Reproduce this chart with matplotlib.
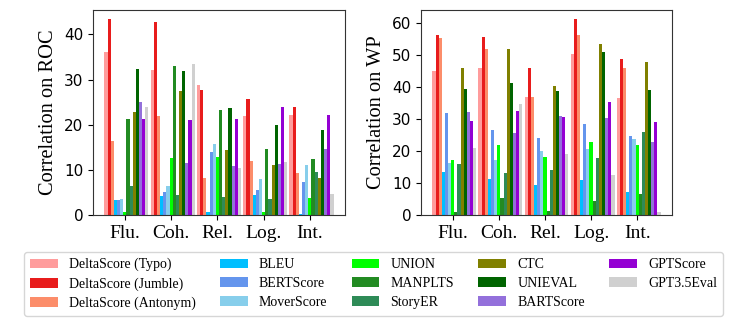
import matplotlib
matplotlib.use("Agg")
import matplotlib.pyplot as plt
import numpy as np

plt.rcParams['font.family'] = ['Liberation Serif', 'DejaVu Serif']

categories = ["Flu.", "Coh.", "Rel.", "Log.", "Int."]
methods = ["DeltaScore (Typo)", "DeltaScore (Jumble)", "DeltaScore (Antonym)",
           "BLEU", "BERTScore", "MoverScore",
           "UNION", "MANPLTS", "StoryER",
           "CTC", "UNIEVAL", "BARTScore",
           "GPTScore", "GPT3.5Eval"]
colors = ["#FF9C9C", "#E81C1C", "#FC8D6A",
          "#00BFFF", "#6495ED", "#87CEEB",
          "#00FF00", "#228B22", "#2E8B57",
          "#808000", "#006400", "#9370DB",
          "#9400D3", "#D0D0D0"]

# values per method, per category (Flu., Coh., Rel., Log., Int.)
roc = {
    "DeltaScore (Typo)":    [36.1, 32.1, 28.7, 21.9, 22.1],
    "DeltaScore (Jumble)":  [43.5, 42.7, 27.6, 25.7, 23.9],
    "DeltaScore (Antonym)": [16.4, 22.0, 8.3, 11.9, 9.3],
    "BLEU":                 [3.3, 4.3, 0.7, 4.4, 0.2],
    "BERTScore":            [3.3, 5.0, 14.0, 5.6, 7.2],
    "MoverScore":           [3.5, 6.4, 15.7, 7.9, 11.1],
    "UNION":                [0.6, 12.7, 12.8, 0.7, 3.8],
    "MANPLTS":              [21.3, 33.0, 23.3, 14.7, 12.4],
    "StoryER":              [6.4, 4.4, 3.9, 3.6, 9.6],
    "CTC":                  [22.9, 27.4, 14.3, 11.1, 8.2],
    "UNIEVAL":              [32.4, 31.9, 23.8, 20.0, 18.8],
    "BARTScore":            [25.0, 11.6, 10.9, 11.3, 14.6],
    "GPTScore":             [21.3, 21.0, 21.3, 24.0, 22.1],
    "GPT3.5Eval":           [23.9, 33.5, 10.4, 11.8, 4.7],
}
wp = {
    "DeltaScore (Typo)":    [44.8, 45.8, 36.8, 50.2, 36.6],
    "DeltaScore (Jumble)":  [56.1, 55.5, 45.8, 61.0, 48.5],
    "DeltaScore (Antonym)": [55.2, 51.8, 36.8, 56.1, 45.8],
    "BLEU":                 [13.3, 11.2, 9.4, 10.9, 7.1],
    "BERTScore":            [31.7, 26.6, 24.0, 28.4, 24.5],
    "MoverScore":           [16.3, 17.0, 20.0, 20.6, 23.6],
    "UNION":                [17.2, 21.7, 18.0, 22.8, 21.7],
    "MANPLTS":              [0.8, 5.3, 1.4, 4.4, 6.4],
    "StoryER":              [15.8, 13.0, 13.9, 17.8, 26.0],
    "CTC":                  [45.8, 51.6, 40.2, 53.2, 47.6],
    "UNIEVAL":              [39.3, 41.3, 38.6, 50.7, 39.1],
    "BARTScore":            [32.1, 25.6, 30.9, 30.2, 22.9],
    "GPTScore":             [29.2, 32.5, 30.7, 35.2, 28.9],
    "GPT3.5Eval":           [20.9, 34.5, 19.0, 12.6, 0.9],
}

fig = plt.figure(figsize=(7.47, 3.27), dpi=100)
ax1 = fig.add_axes([0.1245, 0.3425, 0.3373, 0.6269])
ax2 = fig.add_axes([0.5636, 0.3425, 0.3360, 0.6269])

x = np.arange(len(categories))
w = 0.068
handles = []
for ax, data, ylabel, ymax, yt in [(ax1, roc, "Correlation on ROC", 45.4, [0, 10, 20, 30, 40]),
                                   (ax2, wp, "Correlation on WP", 63.9, [0, 10, 20, 30, 40, 50, 60])]:
    for i, m in enumerate(methods):
        b = ax.bar(x + (i - 6) * w, data[m], width=w, color=colors[i], label=m)
        if ax is ax1:
            handles.append(b)
    ax.set_ylim(0, ymax)
    ax.set_xticks(x)
    ax.set_xticklabels(categories, fontsize=14)
    ax.set_yticks(yt)
    ax.set_yticklabels([str(v) for v in yt], fontfamily='DejaVu Sans', fontsize=11)
    ax.set_ylabel(ylabel, fontsize=14.7)
    for sp in ax.spines.values():
        sp.set_color('#333333')

fig.legend(handles, methods, loc='upper center', bbox_to_anchor=(0.5, 0.228),
           ncol=5, fontsize=10, frameon=True, edgecolor='#CCCCCC',
           labelspacing=0.42, columnspacing=1.75, borderaxespad=0.0)

fig.savefig("out.png", dpi=100)
